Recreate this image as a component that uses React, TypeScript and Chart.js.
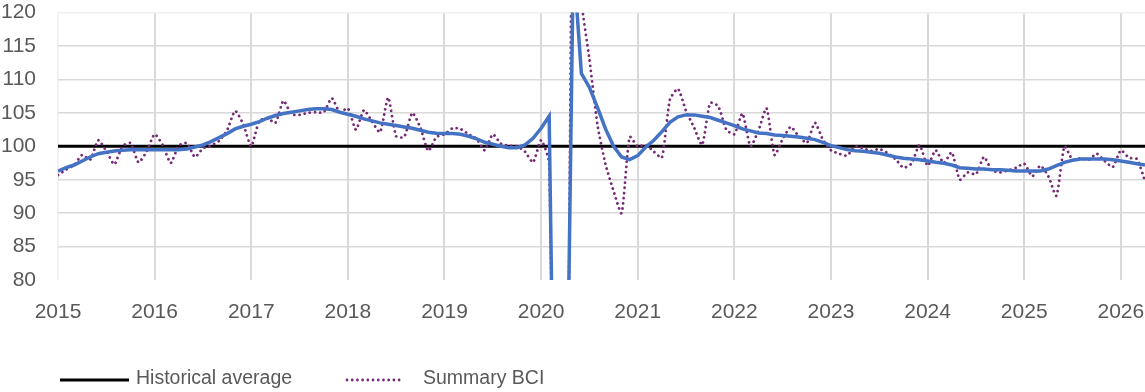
import React, { useEffect, useRef } from "react";
import { Chart, registerables } from "chart.js";

Chart.register(...registerables);

// ---- data ----
const startYear = 2015;
const yearTicks = [2015, 2016, 2017, 2018, 2019, 2020, 2021, 2022, 2023, 2024, 2025, 2026];
const yTicks = [80, 85, 90, 95, 100, 105, 110, 115, 120];
const historicalAverage = 100;
const seriesNames = ["Historical average", "Summary BCI", "Trend"];

// Summary BCI, monthly from Jan 2015
const bciValues = [
  95.7, 96.5, 97.2, 98.7, 98.0, 100.9, 99.3, 97.3, 100.0, 100.5, 97.6, 99.2,
  101.8, 100.2, 97.5, 100.1, 100.5, 98.4, 99.7, 100.1, 100.8, 102.4, 105.3, 103.3,
  100.0, 103.8, 104.2, 103.5, 106.8, 104.8, 104.7, 105.0, 105.1, 105.1, 107.2, 105.1,
  105.7, 102.5, 105.4, 103.7, 102.1, 107.3, 101.5, 101.4, 105.0, 102.8, 99.3, 101.4,
  101.8, 102.7, 102.6, 101.8, 101.1, 99.4, 101.8, 100.4, 100.1, 100.0, 99.2, 97.6,
  100.9, 97.5, 10.0, 20.0, 150.0, 122.0, 113.0, 103.2, 97.3, 93.3, 90.0, 101.4,
  100.0, 100.2, 99.2, 98.3, 107.0, 108.6, 105.3, 102.8, 100.2, 106.5, 106.0, 102.5,
  101.8, 104.9, 100.0, 102.4, 105.7, 98.7, 101.1, 102.9, 101.5, 100.5, 103.5, 101.0,
  99.4, 98.9, 98.6, 100.0, 99.7, 99.3, 99.6, 99.0, 98.1, 96.8, 97.4, 100.2,
  97.1, 99.4, 97.5, 99.1, 95.0, 96.1, 95.8, 98.4, 96.4, 96.1, 96.4, 96.8,
  97.4, 95.5, 97.1, 95.5, 92.6, 100.0, 98.0, 98.2, 98.0, 98.9, 97.8, 96.9,
  99.4, 98.3, 98.1, 94.8,
];

// Trend, monthly from Jan 2015
const trendValues = [
  96.3, 96.8, 97.2, 97.8, 98.4, 98.9, 99.1, 99.3, 99.4, 99.5, 99.5, 99.5,
  99.5, 99.5, 99.5, 99.5, 99.6, 99.9, 100.2, 100.7, 101.3, 101.9, 102.6, 103.0,
  103.3, 103.7, 104.2, 104.6, 104.9, 105.1, 105.3, 105.5, 105.6, 105.6, 105.5, 105.1,
  104.8, 104.5, 104.1, 103.8, 103.5, 103.3, 103.1, 102.9, 102.7, 102.4, 102.1, 101.95,
  101.9, 101.9, 101.8, 101.5, 101.1, 100.6, 100.3, 100.0, 99.8, 99.8, 100.2, 101.2,
  102.7, 104.5, 20.0, 40.0, 128.0, 110.9, 108.8, 105.8, 102.6, 100.0, 98.4, 98.0,
  98.6, 99.9, 100.9, 102.2, 103.6, 104.4, 104.7, 104.7, 104.5, 104.3, 103.9, 103.5,
  103.1, 102.6, 102.3, 102.0, 101.9, 101.7, 101.6, 101.5, 101.4, 101.2, 101.0, 100.6,
  100.1, 99.8, 99.5, 99.35, 99.25, 99.1, 98.95, 98.7, 98.4, 98.2, 98.1, 98.0,
  97.8, 97.6, 97.45, 97.2, 96.8, 96.7, 96.6, 96.6, 96.5, 96.5, 96.4, 96.3,
  96.3, 96.3, 96.3, 96.6, 97.1, 97.6, 97.9, 98.1, 98.1, 98.1, 98.1, 98.0,
  97.8, 97.6, 97.4, 97.2,
];

const FONT = '"Liberation Sans", Arial, sans-serif';
const AXIS_COLOR = "#595959";
const BCI_COLOR = "#762A76";
const TREND_COLOR = "#4472C4";

const toPoints = (vals: number[]) =>
  vals.map((v, i) => ({ x: startYear + i / 12, y: v }));

const legendPlugin = {
  id: "bottomLegend",
  afterDraw(chart: any) {
    const ctx = chart.ctx as CanvasRenderingContext2D;
    ctx.save();
    ctx.font = `19.5px ${FONT}`;
    ctx.textBaseline = "middle";
    ctx.textAlign = "left";
    ctx.fillStyle = AXIS_COLOR;
    // item 1
    ctx.setLineDash([]);
    ctx.lineWidth = 3;
    ctx.strokeStyle = "#000000";
    ctx.beginPath();
    ctx.moveTo(60, 380);
    ctx.lineTo(129, 380);
    ctx.stroke();
    ctx.fillText(seriesNames[0], 136, 379);
    // item 2
    ctx.lineWidth = 2.8;
    ctx.lineCap = "round";
    ctx.setLineDash([0.01, 5.2]);
    ctx.strokeStyle = BCI_COLOR;
    ctx.beginPath();
    ctx.moveTo(347, 380);
    ctx.lineTo(400, 380);
    ctx.stroke();
    ctx.setLineDash([]);
    ctx.fillText(seriesNames[1], 423, 379);
    ctx.restore();
  },
};

export default function App() {
  const ref = useRef<HTMLCanvasElement>(null);

  useEffect(() => {
    document.body.style.margin = "0";
    const canvas = ref.current;
    if (!canvas) return;
    const xMax = startYear + (bciValues.length - 1) / 12;
    const chart = new Chart(canvas, {
      type: "line",
      data: {
        datasets: [
          {
            label: seriesNames[2],
            data: toPoints(trendValues),
            borderColor: TREND_COLOR,
            borderWidth: 3.5,
            pointRadius: 0,
            tension: 0,
            order: 1,
          },
          {
            label: seriesNames[1],
            data: toPoints(bciValues),
            borderColor: BCI_COLOR,
            borderWidth: 2.8,
            borderDash: [0.01, 5.2],
            borderCapStyle: "round",
            pointRadius: 0,
            tension: 0.2,
            order: 2,
          },
          {
            label: seriesNames[0],
            data: [
              { x: startYear, y: historicalAverage },
              { x: xMax, y: historicalAverage },
            ],
            borderColor: "#000000",
            borderWidth: 3,
            pointRadius: 0,
            order: 3,
          },
        ],
      },
      options: {
        animation: false,
        responsive: false,
        maintainAspectRatio: false,
        layout: { padding: { top: 12, right: 0, bottom: 0, left: 0 } },
        plugins: {
          legend: { display: false },
          tooltip: { enabled: false },
        },
        scales: {
          x: {
            type: "linear",
            min: startYear,
            max: xMax,
            afterBuildTicks: (scale: any) => {
              scale.ticks = yearTicks.map((v) => ({ value: v }));
            },
            ticks: {
              includeBounds: false,
              autoSkip: false,
              maxRotation: 0,
              color: AXIS_COLOR,
              font: { family: FONT, size: 21 },
              padding: 0,
              callback: (v: any) => String(v),
            },
            grid: {
              drawTicks: true,
              tickLength: 20,
              tickColor: "rgba(0,0,0,0)",
              lineWidth: 2,
              color: (c: any) => (c.tick && c.tick.value === startYear ? "#F2F2F2" : "#D9D9D9"),
            },
            border: { display: false },
            afterFit: (scale: any) => {
              scale.height = 112;
            },
          },
          y: {
            type: "linear",
            min: yTicks[0],
            max: yTicks[yTicks.length - 1],
            afterBuildTicks: (scale: any) => {
              scale.ticks = yTicks.map((v) => ({ value: v }));
            },
            ticks: {
              color: AXIS_COLOR,
              font: { family: FONT, size: 21 },
              padding: 0,
              callback: (v: any) => String(v),
            },
            grid: {
              drawTicks: true,
              tickLength: 22,
              tickColor: "rgba(0,0,0,0)",
              lineWidth: 1.6,
              color: (c: any) => {
                const v = c.tick ? c.tick.value : 0;
                if (v === 80) return "rgba(0,0,0,0)";
                if (v === 120) return "#EFEFEF";
                return "#D9D9D9";
              },
            },
            border: { display: false },
            afterFit: (scale: any) => {
              scale.width = 58;
            },
          },
        },
      },
      plugins: [legendPlugin],
    });
    return () => chart.destroy();
  }, []);

  return (
    <div style={{ width: 1145, height: 392, position: "relative" }}>
      <canvas ref={ref} width={1145} height={392} style={{ display: "block" }} />
    </div>
  );
}
